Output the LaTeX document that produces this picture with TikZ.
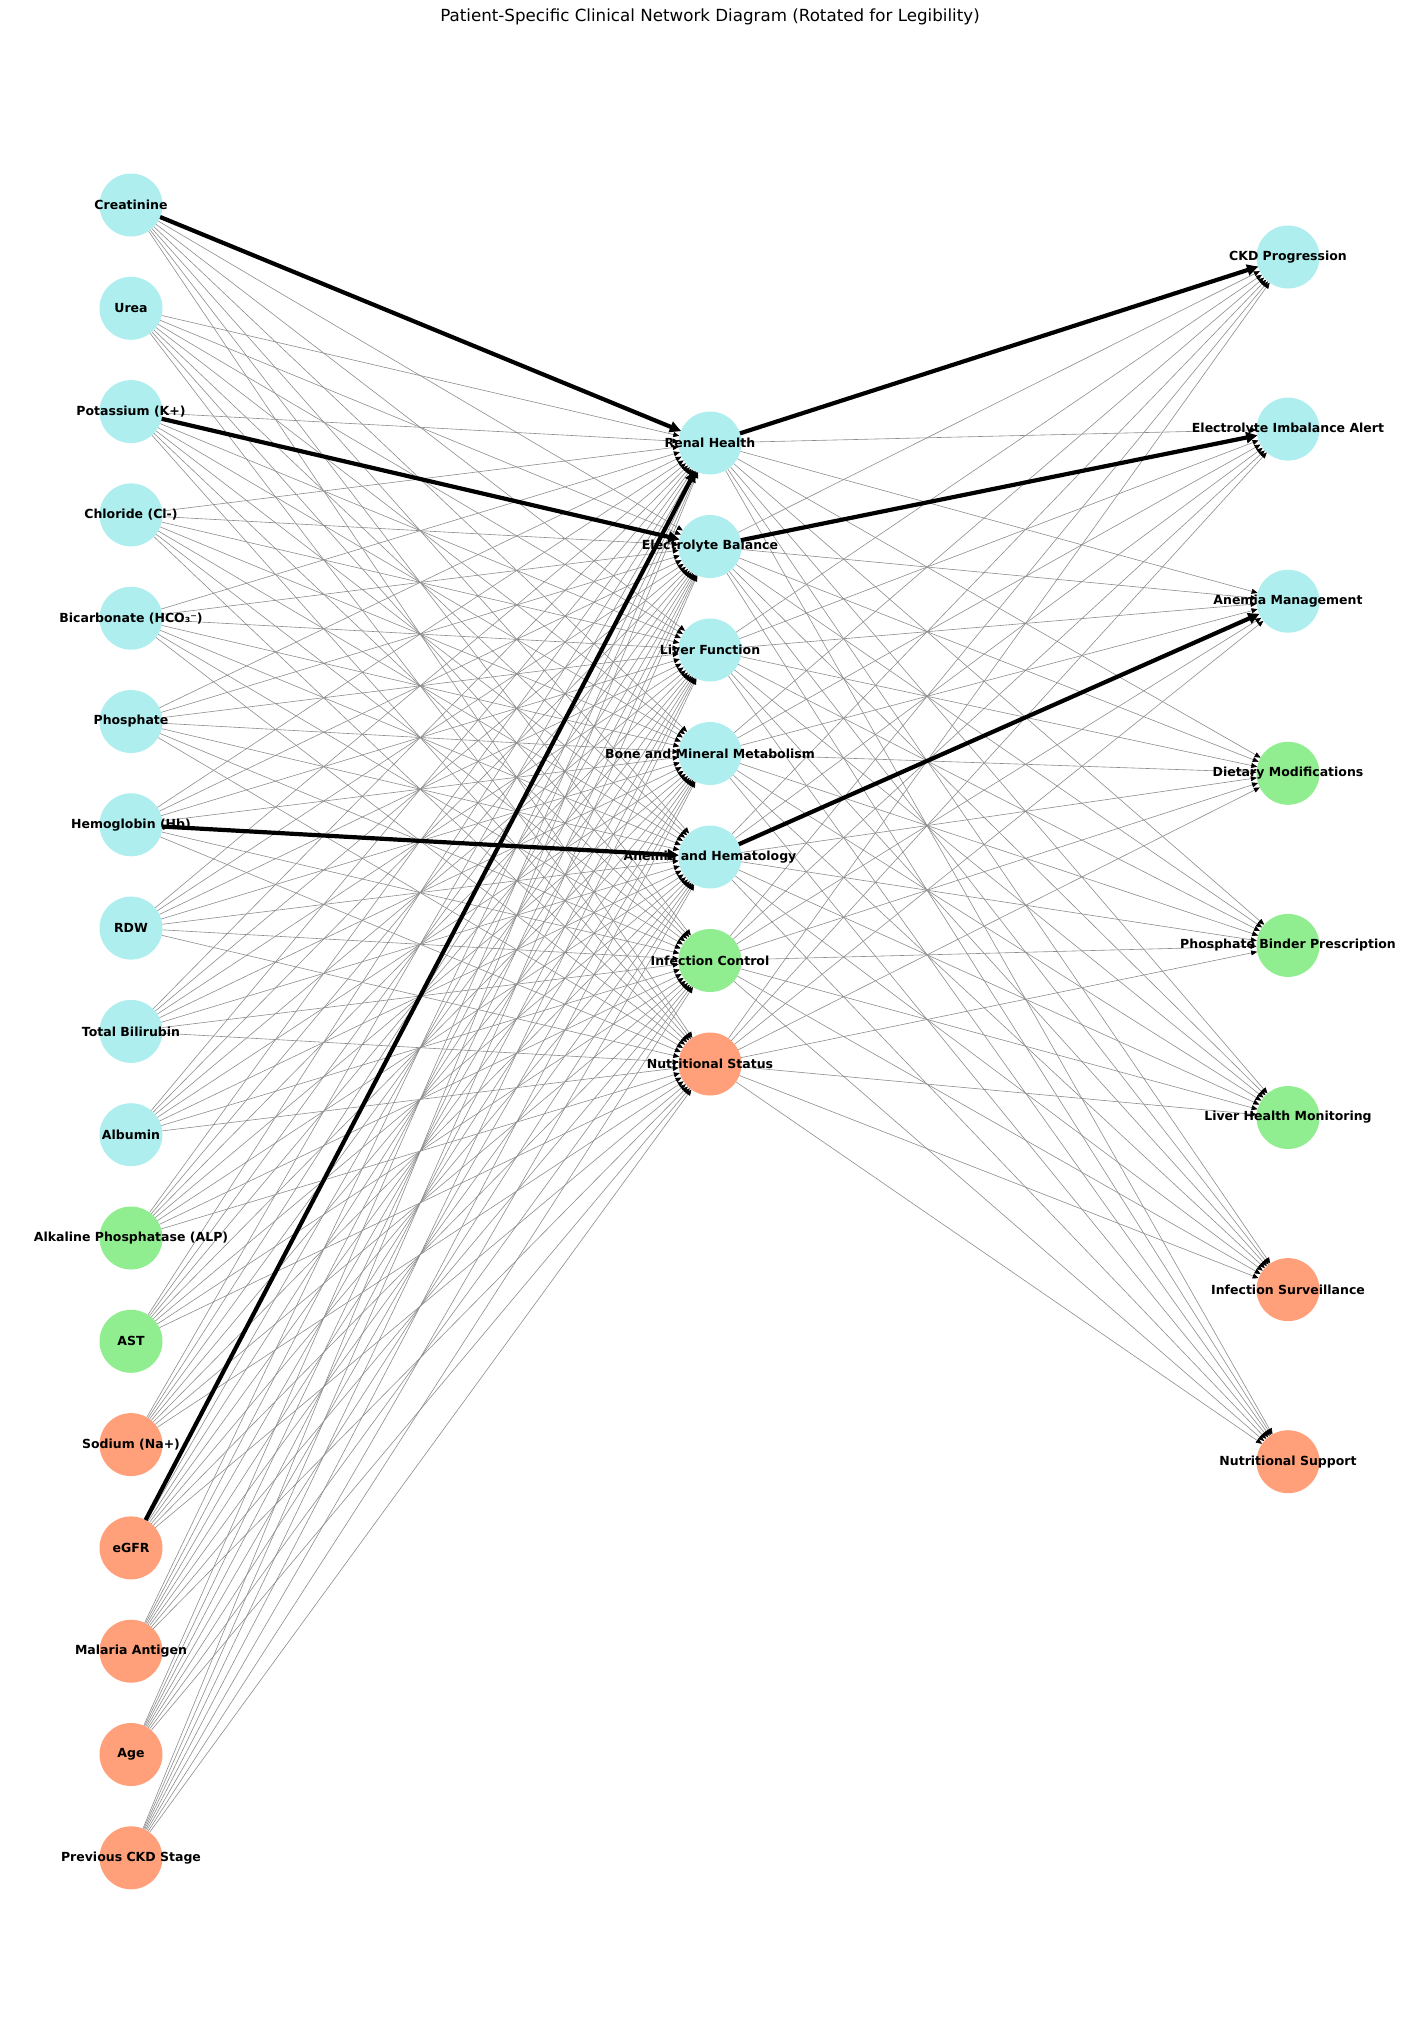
\documentclass[tikz,border=0pt]{standalone}
\usepackage{fontspec}
\setmainfont{DejaVu Sans}
\usetikzlibrary{arrows.meta}
\pgfdeclarelayer{bg}
\pgfsetlayers{bg,main}
\definecolor{cturq}{HTML}{AFEEEE}
\definecolor{cgreen}{HTML}{90EE90}
\definecolor{csalmon}{HTML}{FFA07A}
\tikzset{
  dot/.style={circle,minimum size=63pt,inner sep=0pt,outer sep=0pt,draw=none},
  lbl/.style={font=\fontsize{12.5}{15}\selectfont\bfseries,inner sep=0pt,text=black},
  thinedge/.style={draw=black!45,line width=0.6pt,-{Triangle[length=6pt,width=5pt,color=black]}},
  thickedge/.style={draw=black,line width=4.2pt,-{Triangle[length=11pt,width=11pt,color=black]}},
  titlestyle/.style={font=\fontsize{16.7}{20}\selectfont,inner sep=0pt}
}
\begin{document}
\begin{tikzpicture}[x=1pt,y=-1pt]
\useasboundingbox (0,0) rectangle (1420,2042);
\node[titlestyle] (title) at (710,17) {Patient-Specific Clinical Network Diagram (Rotated for Legibility)};
% left column
\foreach \n/\c [count=\i] in {Creatinine/cturq, Urea/cturq, {Potassium (K+)}/cturq, {Chloride (Cl-)}/cturq, {Bicarbonate (HCO₃⁻)}/cturq, Phosphate/cturq, {Hemoglobin (Hb)}/cturq, RDW/cturq, {Total Bilirubin}/cturq, Albumin/cturq, {Alkaline Phosphatase (ALP)}/cgreen, AST/cgreen, {Sodium (Na+)}/csalmon, eGFR/csalmon, {Malaria Antigen}/csalmon, Age/csalmon, {Previous CKD Stage}/csalmon}{
  \node[dot,fill=\c] (L\i) at (131,{205+103.3*(\i-1)}) {};
}
% middle column
\foreach \n/\c [count=\i] in {{Renal Health}/cturq, {Electrolyte Balance}/cturq, {Liver Function}/cturq, {Bone and Mineral Metabolism}/cturq, {Anemia and Hematology}/cturq, {Infection Control}/cgreen, {Nutritional Status}/csalmon}{
  \node[dot,fill=\c] (M\i) at (710,{443+103.5*(\i-1)}) {};
}
% right column
\foreach \n/\c [count=\i] in {{CKD Progression}/cturq, {Electrolyte Imbalance Alert}/cturq, {Anemia Management}/cturq, {Dietary Modifications}/cgreen, {Phosphate Binder Prescription}/cgreen, {Liver Health Monitoring}/cgreen, {Infection Surveillance}/csalmon, {Nutritional Support}/csalmon}{
  \node[dot,fill=\c] (R\i) at (1288,{257+172.1*(\i-1)}) {};
}
% edges
\begin{pgfonlayer}{bg}
\foreach \i in {1,...,17}{\foreach \j in {1,...,7}{\draw[thinedge] (L\i) -- (M\j);}}
\foreach \i in {1,...,7}{\foreach \j in {1,...,8}{\draw[thinedge] (M\i) -- (R\j);}}
\end{pgfonlayer}
\draw[thickedge] (L1) -- (M1);
\draw[thickedge] (L3) -- (M2);
\draw[thickedge] (L7) -- (M5);
\draw[thickedge] (L14) -- (M1);
\draw[thickedge] (M1) -- (R1);
\draw[thickedge] (M2) -- (R2);
\draw[thickedge] (M5) -- (R3);
% labels
\foreach \n [count=\i] in {Creatinine, Urea, {Potassium (K+)}, {Chloride (Cl-)}, {Bicarbonate (HCO₃⁻)}, Phosphate, {Hemoglobin (Hb)}, RDW, {Total Bilirubin}, Albumin, {Alkaline Phosphatase (ALP)}, AST, {Sodium (Na+)}, eGFR, {Malaria Antigen}, Age, {Previous CKD Stage}}{
  \node[lbl] (tL\i) at (L\i) {\n};
}
\foreach \n [count=\i] in {{Renal Health}, {Electrolyte Balance}, {Liver Function}, {Bone and Mineral Metabolism}, {Anemia and Hematology}, {Infection Control}, {Nutritional Status}}{
  \node[lbl] (tM\i) at (M\i) {\n};
}
\foreach \n [count=\i] in {{CKD Progression}, {Electrolyte Imbalance Alert}, {Anemia Management}, {Dietary Modifications}, {Phosphate Binder Prescription}, {Liver Health Monitoring}, {Infection Surveillance}, {Nutritional Support}}{
  \node[lbl] (tR\i) at (R\i) {\n};
}
\end{tikzpicture}
\end{document}
